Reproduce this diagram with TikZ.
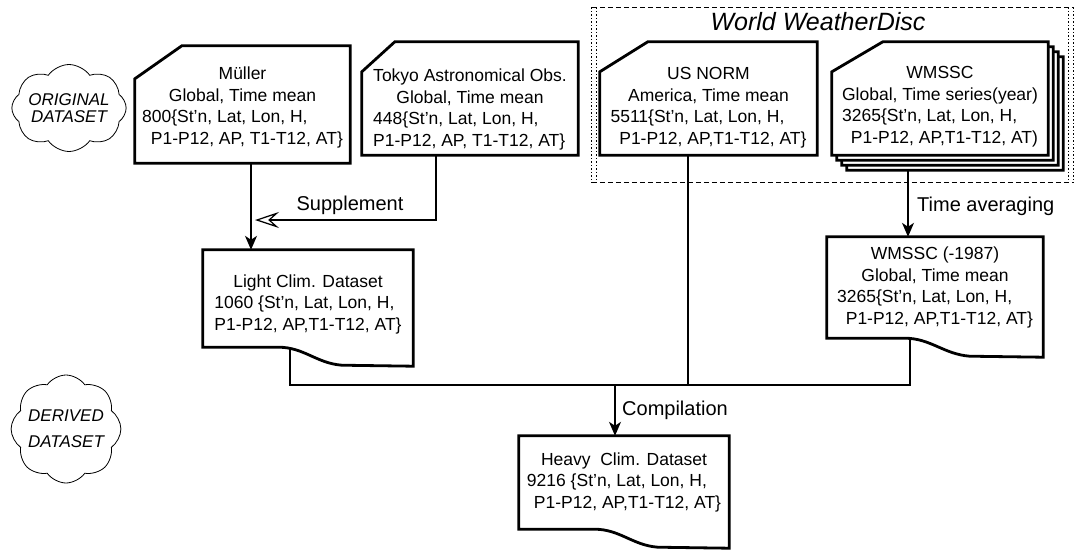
\documentclass[tikz,border=0pt]{standalone}
\usepackage{fontspec}
\setmainfont{Liberation Sans}
\usetikzlibrary{shapes.symbols,calc,arrows.meta}
\pgfdeclarelayer{bg}\pgfdeclarelayer{mid}\pgfsetlayers{bg,mid,main}
\newcommand\lowered[2]{\raisebox{-#1}[\height][\depth]{#2}}
\newcommand\cenrow[1]{\multicolumn{1}{@{}c@{}}{#1}}
\begin{document}
\begin{tikzpicture}[x=1pt,y=-1pt,
 box/.style={inner sep=0pt, font=\fontsize{17.5}{21.5}\selectfont},
 cardline/.style={line width=2.8pt, fill=white, line join=miter},
 conn/.style={line width=1.2pt},
 arr/.style={conn, -{Stealth[length=14pt,width=12pt,inset=4pt]}},
 openarr/.style={conn, -{Stealth[open,length=24pt,width=16pt,inset=9pt,line width=1.2pt]}},
 lab/.style={font=\fontsize{20}{24}\selectfont, inner sep=0pt},
 cloudnode/.style={cloud, cloud puffs=8, cloud puff arc=110, cloud ignores aspect, draw, line width=0.8pt, inner sep=0pt, align=center},
 dashframe/.style={line width=1pt, dash pattern=on 5pt off 3pt},
 dotframe/.style={line width=1.3pt, dash pattern=on 1.5pt off 2pt},
 cardpath/.style n args={3}{insert path={($(#1.north west)+(0,#3)$) -- ($(#1.north west)+(#2,0)$) -- (#1.north east) -- (#1.south east) -- (#1.south west) -- cycle}},
 docpath/.style={insert path={(#1.north west) -- (#1.north east) -- ($(#1.south east)+(0,19)$) -- ($(#1.south west)!0.66!(#1.south east)+(0,18)$) .. controls ($(#1.south west)!0.54!(#1.south east)+(0,16)$) and ($(#1.south west)!0.48!(#1.south east)$) .. ($(#1.south west)!0.36!(#1.south east)$) -- (#1.south west) -- cycle}},
]
\useasboundingbox (0,0) rectangle (1081,554);

% clouds
\node[cloudnode, minimum width=108pt, minimum height=87pt, font=\fontsize{17}{17}\selectfont\itshape] (orig) at (69,108) {ORIGINAL\\DATASET};
\node[cloudnode, minimum width=108pt, minimum height=108pt, font=\fontsize{17}{26}\selectfont\itshape] (der) at (66,429) {DERIVED\\DATASET};

% World WeatherDisc frame
\node[minimum width=481pt, minimum height=175pt, inner sep=0pt] (wwd) at (832.5,95) {};
\node[font=\fontsize{25}{28}\selectfont\itshape, inner sep=0pt] (wwdt) at (818,22) {World WeatherDisc};

% cards
\node[box, minimum width=215pt, minimum height=117pt] (mul) at (242.5,104.5) {\lowered{3pt}{\begin{tabular}{@{}l@{}}\cenrow{Müller}\\\cenrow{Global, Time mean}\\800\{St'n, Lat, Lon, H,\\\hspace{0.5em}P1-P12, AP, T1-T12, AT\}\end{tabular}}};
\node[box, minimum width=216pt, minimum height=113pt] (tok) at (470,98.5) {\lowered{11pt}{\begin{tabular}{@{}l@{}}\cenrow{Tokyo Astronomical Obs.}\\\cenrow{Global, Time mean}\\448\{St'n, Lat, Lon, H,\\P1-P12, AP, T1-T12, AT\}\end{tabular}}};
\node[box, minimum width=217pt, minimum height=113pt] (usn) at (708.5,98.5) {\lowered{9pt}{\begin{tabular}{@{}l@{}}\cenrow{US NORM}\\\cenrow{America, Time mean}\\5511\{St'n, Lat, Lon, H,\\\hspace{0.5em}P1-P12, AP,T1-T12, AT\}\end{tabular}}};
\node[box, minimum width=216pt, minimum height=113pt] (wms3) at (955,113.5) {};
\node[box, minimum width=216pt, minimum height=113pt] (wms2) at (950,108.5) {};
\node[box, minimum width=216pt, minimum height=113pt] (wms1) at (945,103.5) {};
\node[box, minimum width=216pt, minimum height=113pt] (wms) at (940,98.5) {\lowered{8pt}{\begin{tabular}{@{}l@{}}\cenrow{WMSSC}\\\cenrow{Global, Time series(year)}\\3265\{St'n, Lat, Lon, H,\\\hspace{0.5em}P1-P12, AP,T1-T12, AT)\end{tabular}}};
\node[box, minimum width=210pt, minimum height=97pt] (light) at (308,298.5) {\lowered{6pt}{\begin{tabular}{@{}l@{}}\cenrow{Light Clim. Dataset}\\1060 \{St'n, Lat, Lon, H,\\P1-P12, AP,T1-T12, AT\}\end{tabular}}};
\node[box, minimum width=216pt, minimum height=101pt] (wm87) at (935,287.5) {\begin{tabular}{@{}l@{}}\cenrow{WMSSC (-1987)}\\\cenrow{Global, Time mean}\\3265\{St'n, Lat, Lon, H,\\\hspace{0.5em}P1-P12, AP,T1-T12, AT\}\end{tabular}};
\node[box, minimum width=210pt, minimum height=93pt] (heavy) at (624,482.5) {\begin{tabular}{@{}l@{}}\cenrow{Heavy\ \ Clim. Dataset}\\9216 \{St'n, Lat, Lon, H,\\\hspace{0.4em}P1-P12, AP,T1-T12, AT\}\end{tabular}};

% labels
\node[lab] (suplab) at (350,205) {Supplement};
\node[lab, anchor=west] (tavlab) at (917,206) {Time averaging};
\node[lab, anchor=west] (comlab) at (622,410) {Compilation};

\coordinate (supend) at (255,220);
\coordinate (junc) at (615,385);

\begin{pgfonlayer}{bg}
\draw[dashframe] (wwd.north west) -- (wwd.north east);
\draw[dashframe] (wwd.south west) -- (wwd.south east);
\draw[dotframe] (wwd.north west) -- (wwd.south west);
\draw[dotframe] ([xshift=5pt]wwd.north west) -- ([xshift=5pt]wwd.south west);
\draw[dotframe] (wwd.north east) -- (wwd.south east);
\draw[dotframe] ([xshift=-5pt]wwd.north east) -- ([xshift=-5pt]wwd.south east);

\draw[arr] ([xshift=8.5pt]mul.south) -- ([xshift=8.5pt]mul.south |- light.north);
\draw[openarr] ([xshift=-34pt]tok.south) |- (supend);
\draw[conn] ([xshift=-18pt]light.south) |- (junc);
\draw[conn] ([xshift=-25pt]wm87.south) |- (junc);
\draw[conn] ([xshift=-20.5pt]usn.south) -- ([xshift=-20.5pt]usn.south |- junc);
\draw[arr] (junc) -- (junc |- heavy.north);
\draw[arr] ([xshift=-32pt]wms.south) -- ([xshift=-32pt]wms.south |- wm87.north);
\end{pgfonlayer}

\begin{pgfonlayer}{mid}
\draw[cardline] [cardpath={mul}{47}{33}];
\draw[cardline] [cardpath={tok}{33}{30}];
\draw[cardline] [cardpath={usn}{48}{30}];
\draw[cardline] [cardpath={wms3}{51}{30}];
\draw[cardline] [cardpath={wms2}{51}{30}];
\draw[cardline] [cardpath={wms1}{51}{30}];
\draw[cardline] [cardpath={wms}{51}{30}];
\draw[cardline] [docpath=light];
\draw[cardline] [docpath=wm87];
\draw[cardline] [docpath=heavy];
\end{pgfonlayer}
\end{tikzpicture}
\end{document}
